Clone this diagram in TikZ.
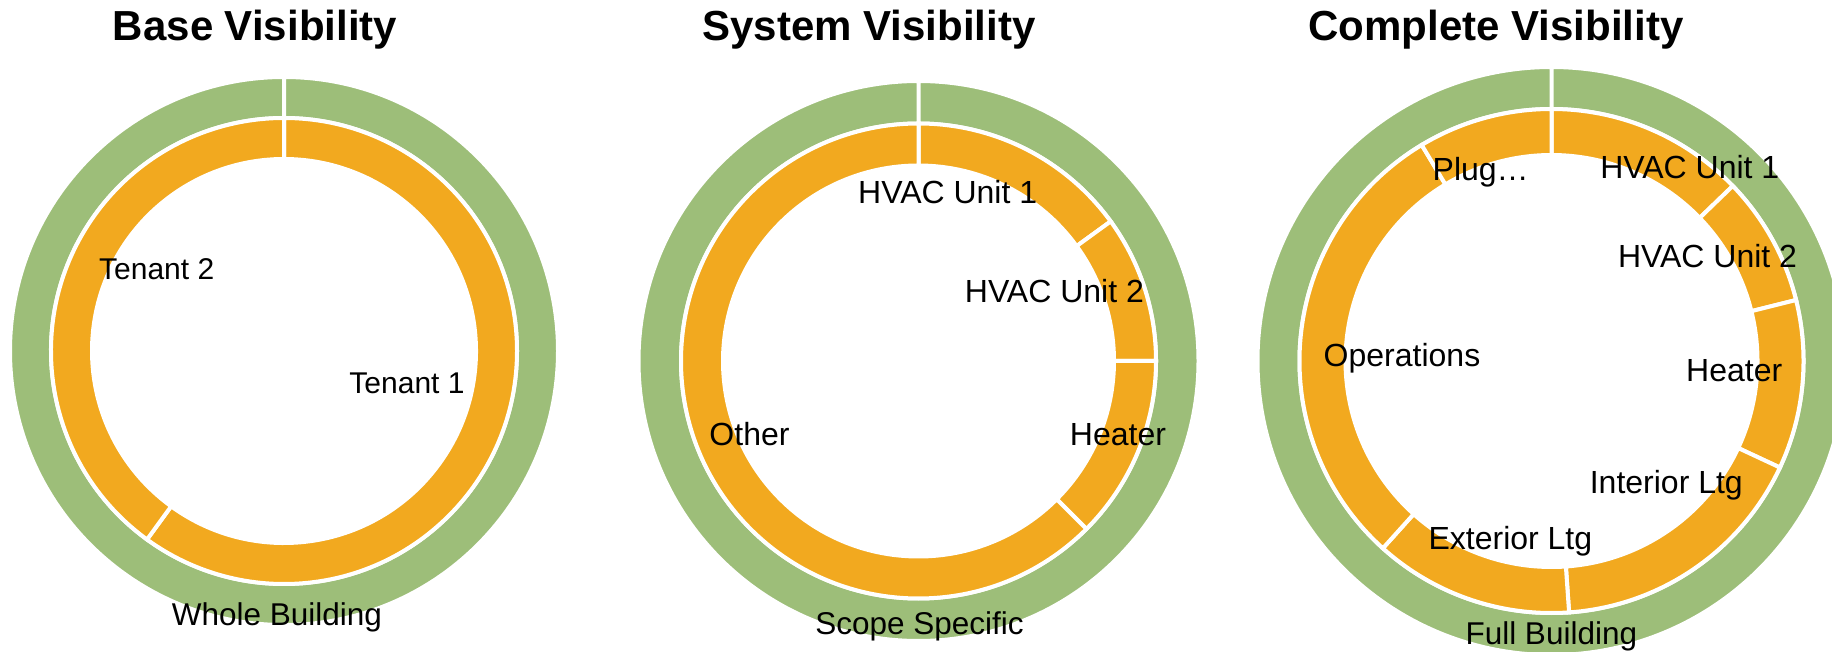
\documentclass[tikz,border=0pt]{standalone}
\usepackage{fontspec}
\setmainfont{Liberation Sans}
\definecolor{ringgreen}{HTML}{9DBE79}
\definecolor{ringorange}{HTML}{F2A91F}
\newcommand\donutseg[7]{% cx cy a1 a2 Ro Ri color
  \begin{scope}[shift={(#1,#2)}]
    \filldraw[fill=#7,draw=white,line width=4pt,line join=miter]
      (#3:#5) arc[start angle=#3,end angle=#4,radius=#5]
      -- (#4:#6) arc[start angle=#4,end angle=#3,radius=#6] -- cycle;
  \end{scope}}
\tikzset{
  lbl/.style={anchor=base,inner sep=0pt,font=\fontsize{32}{38}\selectfont},
  smlbl/.style={anchor=base,inner sep=0pt,font=\fontsize{30}{36}\selectfont},
  catlbl/.style={anchor=base,inner sep=0pt,font=\fontsize{31.5}{38}\selectfont},
  ttl/.style={anchor=base,inner sep=0pt,font=\bfseries\fontsize{42}{50}\selectfont},
}
\begin{document}
\begin{tikzpicture}[x=1pt,y=1pt]
\useasboundingbox (0,0) rectangle (1832,651);
\clip (0,0) rectangle (1832,651);
% ---- donut 1: centre (284,300)
\donutseg{284}{300}{90}{-270}{274}{233}{ringgreen}
\donutseg{284}{300}{90}{-126}{233}{192}{ringorange}
\donutseg{284}{300}{234}{90}{233}{192}{ringorange}
% ---- donut 2: centre (918.5,290)
\donutseg{918.5}{290}{90}{-270}{280}{237.5}{ringgreen}
\donutseg{918.5}{290}{90}{36}{237.5}{195.5}{ringorange}
\donutseg{918.5}{290}{36}{0}{237.5}{195.5}{ringorange}
\donutseg{918.5}{290}{0}{-45}{237.5}{195.5}{ringorange}
\donutseg{918.5}{290}{315}{90}{237.5}{195.5}{ringorange}
% ---- donut 3: centre (1551.5,290)
\donutseg{1551.5}{290}{90}{-270}{294}{252}{ringgreen}
\donutseg{1551.5}{290}{90}{44}{252}{206}{ringorange}
\donutseg{1551.5}{290}{44}{14}{252}{206}{ringorange}
\donutseg{1551.5}{290}{14}{-25}{252}{206}{ringorange}
\donutseg{1551.5}{290}{-25}{-86}{252}{206}{ringorange}
\donutseg{1551.5}{290}{-86}{-132}{252}{206}{ringorange}
\donutseg{1551.5}{290}{228}{121}{252}{206}{ringorange}
\donutseg{1551.5}{290}{121}{90}{252}{206}{ringorange}
% ---- titles
\node[ttl] (t1) at (255,610) {Base Visibility};
\node[ttl] (t2) at (869,610) {System Visibility};
\node[ttl] (t3) at (1496,610) {Complete Visibility};
% ---- labels donut 1
\node[smlbl] (d1a) at (156.7,371) {Tenant 2};
\node[smlbl] (d1b) at (407,257) {Tenant 1};
\node[catlbl] (d1c) at (277,26) {Whole Building};
% ---- labels donut 2
\node[lbl] (d2a) at (947.7,447) {HVAC Unit 1};
\node[lbl] (d2b) at (1054.4,348) {HVAC Unit 2};
\node[lbl] (d2c) at (1118,205) {Heater};
\node[lbl] (d2d) at (749.5,205) {Other};
\node[catlbl] (d2e) at (919.5,17) {Scope Specific};
% ---- labels donut 3
\node[lbl] (d3a) at (1480.7,470) {Plug…};
\node[lbl] (d3b) at (1689.8,472) {HVAC Unit 1};
\node[lbl] (d3c) at (1707.5,383) {HVAC Unit 2};
\node[lbl] (d3d) at (1734.2,269.5) {Heater};
\node[lbl] (d3e) at (1666.3,157) {Interior Ltg};
\node[lbl] (d3f) at (1510.4,101) {Exterior Ltg};
\node[lbl] (d3g) at (1402,284) {Operations};
\node[catlbl] (d3h) at (1551.3,7) {Full Building};
\end{tikzpicture}
\end{document}
